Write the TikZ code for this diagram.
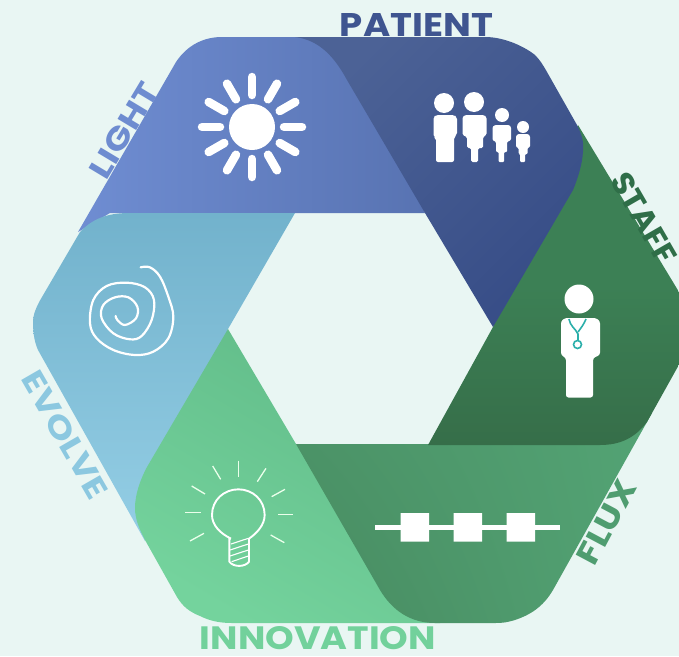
\documentclass[tikz,border=0pt]{standalone}
\usepackage{fontspec}
\usepackage{graphicx}
\usetikzlibrary{shadings}
\setmainfont{Poppins}
\definecolor{bgc}{HTML}{E9F6F3}
\definecolor{lightA}{HTML}{6F8DD2}
\definecolor{lightB}{HTML}{5873B2}
\definecolor{patA}{HTML}{4C6296}
\definecolor{patB}{HTML}{374D87}
\definecolor{staffA}{HTML}{3C8055}
\definecolor{staffB}{HTML}{366E49}
\definecolor{fluxA}{HTML}{53A374}
\definecolor{fluxB}{HTML}{478A60}
\definecolor{evoA}{HTML}{72B2CC}
\definecolor{evoB}{HTML}{94CEE5}
\definecolor{innoA}{HTML}{61BB88}
\definecolor{innoB}{HTML}{74D39D}
\definecolor{steth}{HTML}{2BAFAA}
\definecolor{txLight}{HTML}{6E8CD0}
\definecolor{txPat}{HTML}{3F5590}
\definecolor{txStaff}{HTML}{2F6E48}
\definecolor{txFlux}{HTML}{4F9D70}
\definecolor{txEvo}{HTML}{8CC8E0}
\definecolor{txInno}{HTML}{72D19B}
\tikzset{
  ray/.style={white,line width=8.5pt,line cap=round},
  thin ray/.style={white!92!green,line width=1.3pt},
  icon/.style={fill=white,draw=none},
  labelnode/.style={inner sep=0pt,outer sep=0pt},
}
\newcommand{\ringlabel}[3]{\resizebox{#1pt}{#2pt}{\bfseries #3}}
\begin{document}
\begin{tikzpicture}[x=1pt,y=-1pt]
\fill[bgc] (0,0) rectangle (679,656);
\useasboundingbox (0,0) rectangle (679,656);
\begin{scope}
\clip (0,0) rectangle (679,656);
% LIGHT
\shade[left color=lightA,middle color=lightA,right color=lightB]
 (78,232) -- (176,62) .. controls (188,44) and (205,37) .. (222,37) -- (330,37) -- (390,117) -- (425,213) -- (110,213) -- cycle;
% EVOLVE
\shade[top color=evoA,bottom color=evoB]
 (295,213) -- (130,213) .. controls (112,213) and (95,216) .. (80,232) -- (42,297) .. controls (36,307) and (33,315) .. (33,322) .. controls (33,335) and (35,343) .. (38,350) -- (145,541) -- (170,470) -- (228,329) -- cycle;
% INNOVATION
\shade[left color=innoA,right color=innoB,shading angle=-30]
 (228,329) -- (147,467) .. controls (140,480) and (135,495) .. (135,508) .. controls (135,520) and (140,530) .. (145,540) -- (177,597) .. controls (183,607) and (190,612) .. (200,616) .. controls (210,621) and (220,623) .. (232,623) -- (440,623) -- (420,560) -- (296,444) -- cycle;
% FLUX
\shade[upper right=fluxA,lower right=fluxA,upper left=fluxB!60!fluxA,lower left=fluxB]
 (296,444) -- (600,444) -- (652,413) -- (553,590) .. controls (543,607) and (530,615) .. (515,620) .. controls (505,623) and (500,623) .. (495,623) -- (435,623) .. controls (410,623) and (392,610) .. (380,590) -- cycle;
% STAFF
\shade[top color=staffA,bottom color=staffB,middle color=staffA]
 (578,125) -- (679,292) -- (700,327) -- (647,422) .. controls (635,438) and (620,445) .. (600,445) -- (428,445) -- (493,327) -- (540,200) -- cycle;
% PATIENT
\shade[left color=patB,right color=patA,shading angle=-135]
 (295,37) -- (485,37) .. controls (505,37) and (525,47) .. (535,55) .. controls (540,60) and (543,65) .. (547,72) -- (577,125) .. controls (582,135) and (584,142) .. (583,152) .. controls (582,165) and (578,178) .. (573,190) -- (493,327) -- (425,213) -- (347,80) .. controls (335,58) and (320,40) .. (295,37) -- cycle;
% sun
\fill[white] (252,127) circle (23);
\foreach \a in {0,30,...,330}
  \draw[ray] (252,127) ++(\a:32) -- ++(\a:18);
% family
\fill[icon] (444,103) circle (10) (474,102) circle (10) (502,115) circle (7) (523,127) circle (6);
\fill[icon,rounded corners=2pt] (433.5,137) -- (433.5,117) -- (436,115) -- (454,115) -- (457,117) -- (457,135) -- (454,137) -- (454,162) -- (436,162) -- (436,138) -- cycle;
\fill[icon,rounded corners=1.5pt] (462.5,135) -- (462.5,117) -- (465,115) -- (484,115) -- (486.5,117) -- (486.5,135) -- (483,137) -- (483,148) -- (478,148) -- (478,162) -- (471,162) -- (471,148) -- (467,148) -- (467,137) -- cycle;
\fill[icon,rounded corners=1pt] (492.5,140) -- (492.5,127) -- (495,125) -- (509,125) -- (511,127) -- (511,140) -- (507,142) -- (507,152) -- (504,152) -- (504,162) -- (498.5,162) -- (498.5,152) -- (496,152) -- (496,142) -- cycle;
\fill[icon,rounded corners=1pt] (516,147) -- (516,136) -- (518,134) -- (528,134) -- (530,136) -- (530,147) -- (527.5,148) -- (527.5,154) -- (525,154) -- (525,162) -- (520,162) -- (520,154) -- (518.5,154) -- (518.5,148) -- cycle;
% doctor
\fill[icon] (579,299) circle (14.5);
\fill[icon,rounded corners=2.5pt] (561,355) -- (561,321) -- (565,318) -- (596,318) -- (600,321) -- (600,355) -- (593,358) -- (593,397.5) -- (566,397.5) -- (566,358) -- cycle;
\draw[steth,line width=1.6pt] (569,319) .. controls (570,326) and (575,328) .. (578,334) -- (578,340);
\draw[steth,line width=1.6pt] (586,319) .. controls (584,324) and (581,328) .. (578,332);
\draw[steth,line width=1.6pt] (577.5,344.5) circle (4);
% flux icon
\fill[icon] (375,524.7) rectangle (560,529.5);
\fill[icon] (400.5,513) rectangle (429,541.5) (453.5,513) rectangle (482,541.5) (506.5,513) rectangle (535,541.5);
% bulb
\begin{scope}[shift={(130,420)},x=0.3333pt,y=-0.3333pt]
  \foreach \xa/\ya/\xb/\yb in {325/122/325/170,248/138/272/178,408/145/382/185,185/198/225/222,465/208/425/230,165/278/212/278,445/283/490/283,180/363/222/340,422/345/463/368}
    \draw[thin ray] (\xa,\ya) -- (\xb,\yb);
  \draw[white,line width=1.9pt,line join=round] (303,356) .. controls (270,340) and (246,315) .. (246,285) .. controls (246,240) and (282,208) .. (325,208) .. controls (368,208) and (404,240) .. (404,285) .. controls (404,315) and (380,340) .. (357,356) -- (357,425) .. controls (345,442) and (310,442) .. (298,425) -- (298,356) -- (303,356);
  \draw[white,line width=1.1pt] (303,372) -- (355,355) (300,390) -- (355,372) (300,408) -- (355,390) (305,425) -- (355,408);
\end{scope}
% spiral
\begin{scope}[shift={(0,210)},x=0.3333pt,y=-0.3333pt]
  \draw[white,line width=2.2pt,line cap=round] plot[smooth,tension=0.6] coordinates {(422,172) (450,172) (480,200) (505,260) (520,320) (505,385) (460,425) (405,435) (340,420) (290,385) (270,340) (280,270) (320,228) (380,218) (435,232) (462,270) (455,330) (425,378) (390,388) (340,370) (305,325) (310,285) (345,262) (385,262) (412,290) (408,325) (375,345) (352,330) (347,318)};
\end{scope}
% labels
\node[labelnode,rotate=59,text=txLight] (lightlabel) at (124,130.5) {\ringlabel{105}{22}{LIGHT}};
\node[labelnode,text=txPat] (patientlabel) at (416.5,24.5) {\ringlabel{153}{23}{PATIENT}};
\node[labelnode,rotate=-60,text=txStaff] (stafflabel) at (644,218) {\ringlabel{100}{22}{STAFF}};
\node[labelnode,rotate=62,text=txFlux] (fluxlabel) at (606.7,522.5) {\ringlabel{91}{22}{FLUX}};
\node[labelnode,rotate=-60,text=txEvo] (evolvelabel) at (65,435) {\ringlabel{142}{22}{EVOLVE}};
\node[labelnode,text=txInno] (innovationlabel) at (318,638.5) {\ringlabel{236}{23}{INNOVATION}};
\end{scope}
\end{tikzpicture}
\end{document}
